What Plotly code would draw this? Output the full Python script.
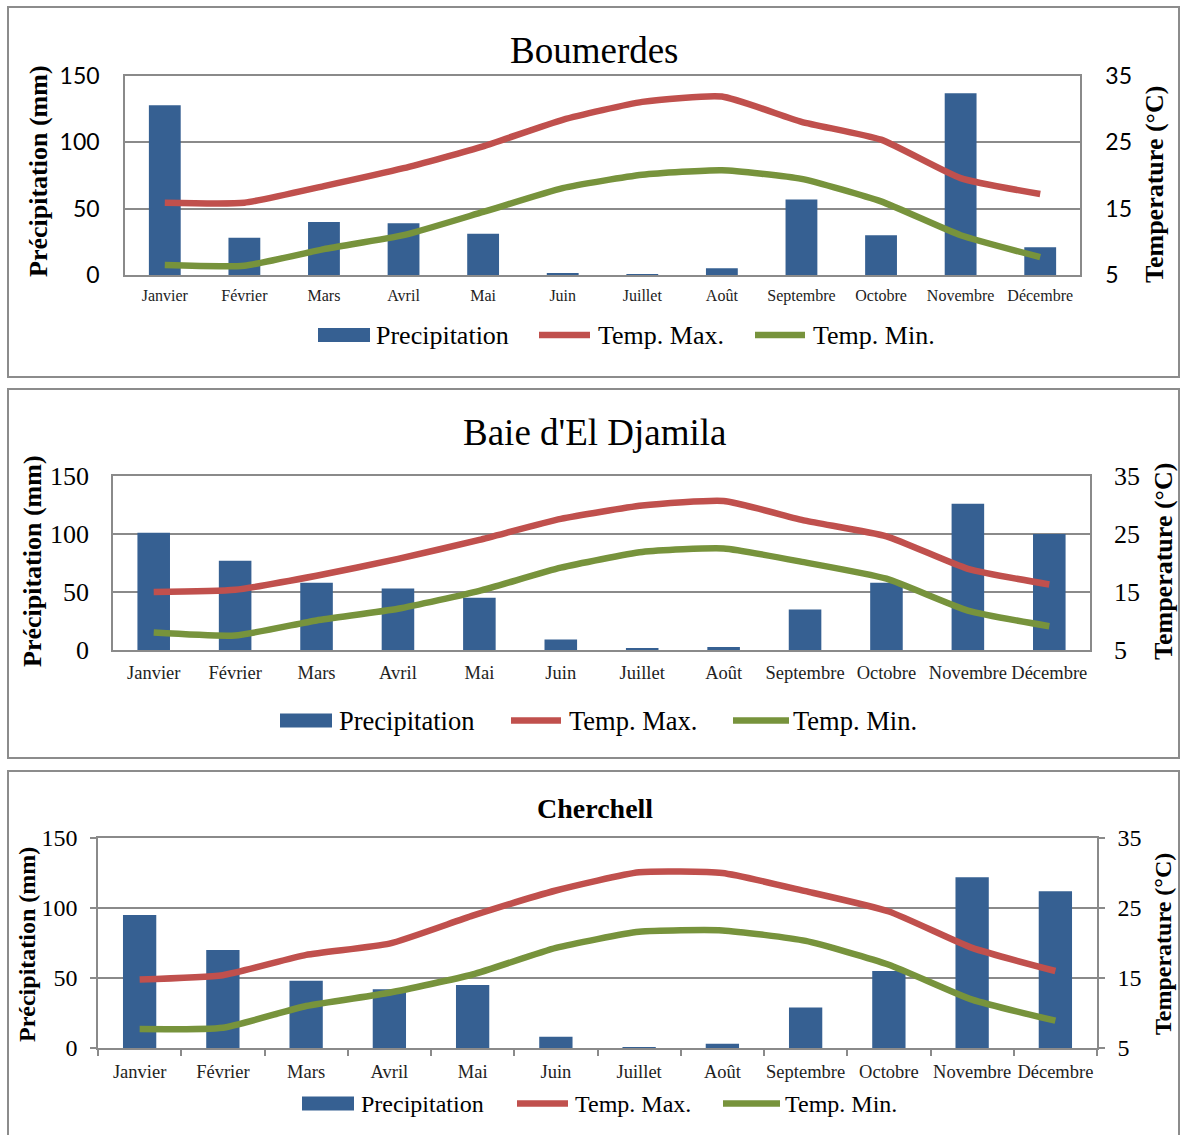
import plotly.graph_objects as go

months = ["Janvier", "Février", "Mars", "Avril", "Mai", "Juin", "Juillet",
          "Août", "Septembre", "Octobre", "Novembre", "Décembre"]

boum_precip = [128, 28, 40, 39, 31, 1, 0.5, 5, 57, 30, 137, 21]
boum_tmax = [15.9, 15.9, 18.4, 21.1, 24.4, 28.4, 31.1, 31.9, 28.1, 25.4, 19.6, 17.2]
boum_tmin = [6.5, 6.4, 8.9, 11.0, 14.5, 18.1, 20.1, 20.8, 19.5, 16.1, 11.0, 7.7]

djam_precip = [101, 77, 58, 53, 45, 9, 1, 2.5, 35, 58, 126, 100]
djam_tmax = [15.0, 15.4, 17.8, 20.7, 24.0, 27.6, 29.9, 30.7, 27.3, 24.6, 19.0, 16.3]
djam_tmin = [8.0, 7.5, 10.1, 12.1, 15.2, 19.2, 21.9, 22.5, 20.1, 17.3, 11.8, 9.1]

cher_precip = [95, 70, 48, 42, 45, 8, 0.5, 3, 29, 55, 122, 112]
cher_tmax = [14.8, 15.4, 18.3, 19.9, 23.9, 27.5, 30.1, 30.0, 27.4, 24.5, 19.3, 16.0]
cher_tmin = [7.7, 7.9, 11.0, 12.9, 15.5, 19.3, 21.6, 21.8, 20.3, 16.9, 11.9, 8.9]

titles = ["Boumerdes", "Baie d'El Djamila", "Cherchell"]
series_names = ["Precipitation", "Temp. Max.", "Temp. Min."]
left_ticks = [0, 50, 100, 150]
right_ticks = [5, 15, 25, 35]
left_title = "Précipitation (mm)"
right_title = "Temperature (°C)"

BLUE = "#366092"
RED = "#C0504D"
GREEN = "#77933C"
GRID = "#8a8a8a"

W, H = 1181, 1135


def px(x):
    return x / W


def py(y):
    return 1 - y / H


SERIF = "Liberation Serif"
SANS = "Lato"

panels = [
    dict(data=(boum_precip, boum_tmax, boum_tmin), title_font=dict(family=SERIF, size=37, color="black"),
         title_y=50, box=(8, 7, 1179, 377), plot=(125, 76, 1080, 275),
         tick_font=dict(family=SANS, size=23, color="black"), tick_standoff=19,
         x_font=dict(family=SERIF, size=16, color="#222"), x_standoff=5,
         axt_font=dict(family=SERIF, size=26, color="black"), axt_x=(38, 1155), axt_y=(171, 185),
         ticks=False,
         legend=dict(y=335, size=26, bar=(318, 370), red=(539, 590), green=(755, 805),
                     txt=(374, 596, 811))),
    dict(data=(djam_precip, djam_tmax, djam_tmin), title_font=dict(family=SERIF, size=37, color="black"),
         title_y=432, box=(8, 389, 1179, 758), plot=(113, 476, 1090, 650),
         tick_font=dict(family=SERIF, size=26, color="black"), tick_standoff=17,
         x_font=dict(family=SERIF, size=18.5, color="#222"), x_standoff=5,
         axt_font=dict(family=SERIF, size=26, color="black"), axt_x=(33, 1163), axt_y=(561, 562),
         ticks=False,
         legend=dict(y=720.5, size=26.5, bar=(280, 332), red=(511, 561), green=(733, 789),
                     txt=(337, 567, 791))),
    dict(data=(cher_precip, cher_tmax, cher_tmin), title_font=dict(family=SERIF, size=28, color="black", weight="bold"),
         title_y=808, box=(8, 771, 1179, 1145), plot=(98, 838, 1097, 1048),
         tick_font=dict(family=SERIF, size=24, color="black"), tick_standoff=8,
         x_font=dict(family=SERIF, size=18.5, color="#222"), x_standoff=6,
         axt_font=dict(family=SERIF, size=24, color="black"), axt_x=(27, 1163), axt_y=(945, 944),
         ticks=True,
         legend=dict(y=1103.5, size=24, bar=(302, 354), red=(517, 568), green=(723, 780),
                     txt=(359, 573, 783))),
]

fig = go.Figure()
shapes = []
annotations = []

for i, p in enumerate(panels):
    n = i + 1
    xa = "x" if n == 1 else f"x{n}"
    yl_idx = 2 * n - 1
    yr_idx = 2 * n
    yl = "y" if yl_idx == 1 else f"y{yl_idx}"
    yr = f"y{yr_idx}"
    precip, tmax, tmin = p["data"]

    fig.add_trace(go.Bar(x=months, y=precip, name=series_names[0], marker=dict(color=BLUE, line=dict(width=0)),
                         width=0.4, xaxis=xa, yaxis=yl, showlegend=False))
    fig.add_trace(go.Scatter(x=months, y=tmax, name=series_names[1], mode="lines",
                             line=dict(color=RED, width=6.5, shape="spline", smoothing=0.5),
                             xaxis=xa, yaxis=yr, showlegend=False))
    fig.add_trace(go.Scatter(x=months, y=tmin, name=series_names[2], mode="lines",
                             line=dict(color=GREEN, width=6.5, shape="spline", smoothing=0.5),
                             xaxis=xa, yaxis=yr, showlegend=False))

    x0, y0, x1, y1 = p["plot"]
    xkey = "xaxis" if n == 1 else f"xaxis{n}"
    ylkey = "yaxis" if yl_idx == 1 else f"yaxis{yl_idx}"
    yrkey = f"yaxis{yr_idx}"

    xaxis = dict(domain=[px(x0), px(x1)], anchor=yl, type="category", range=[-0.5, 11.5],
                 showline=True, mirror=True, linecolor=GRID, linewidth=1.5, showgrid=False,
                 zeroline=False, tickfont=p["x_font"], ticklabelstandoff=p["x_standoff"],
                 tickangle=0, automargin=False, fixedrange=True)
    yl_axis = dict(domain=[py(y1), py(y0)], anchor=xa, range=[0, 150], tickvals=left_ticks,
                   showline=True, linecolor=GRID, linewidth=1.5, showgrid=True, gridcolor=GRID,
                   gridwidth=1.5, zeroline=False, tickfont=p["tick_font"],
                   ticklabelstandoff=p["tick_standoff"], automargin=False)
    yr_axis = dict(overlaying=yl, anchor=xa, side="right", range=[5, 35], tickvals=right_ticks,
                   showline=True, linecolor=GRID, linewidth=1.5, showgrid=False, zeroline=False,
                   tickfont=p["tick_font"], ticklabelstandoff=p["tick_standoff"], automargin=False)
    if p["ticks"]:
        xaxis.update(ticks="outside", tickson="boundaries", ticklen=6, tickcolor=GRID, tickwidth=1.5)
        yl_axis.update(ticks="outside", ticklen=6, tickcolor=GRID, tickwidth=1.5)
        yr_axis.update(ticks="outside", ticklen=6, tickcolor=GRID, tickwidth=1.5)
    fig.update_layout({xkey: xaxis, ylkey: yl_axis, yrkey: yr_axis})

    # panel frame
    bx0, by0, bx1, by1 = p["box"]
    shapes.append(dict(type="rect", xref="paper", yref="paper", x0=px(bx0), x1=px(bx1),
                       y0=py(by1), y1=py(by0), line=dict(color="#8c8c8c", width=2), layer="below"))

    # title
    annotations.append(dict(text=titles[i], xref="paper", yref="paper", x=px(595), y=py(p["title_y"]),
                            xanchor="center", yanchor="middle", showarrow=False, font=p["title_font"]))
    # axis titles
    annotations.append(dict(text=f"<b>{left_title}</b>", xref="paper", yref="paper", x=px(p["axt_x"][0]),
                            y=py(p["axt_y"][0]), textangle=-90, xanchor="center", yanchor="middle",
                            showarrow=False, font=p["axt_font"]))
    annotations.append(dict(text=f"<b>{right_title}</b>", xref="paper", yref="paper", x=px(p["axt_x"][1]),
                            y=py(p["axt_y"][1]), textangle=-90, xanchor="center", yanchor="middle",
                            showarrow=False, font=p["axt_font"]))

    # legend (drawn)
    lg = p["legend"]
    ly = lg["y"]
    shapes.append(dict(type="rect", xref="paper", yref="paper", x0=px(lg["bar"][0]), x1=px(lg["bar"][1]),
                       y0=py(ly + 7), y1=py(ly - 7), fillcolor=BLUE, line=dict(width=0)))
    shapes.append(dict(type="line", xref="paper", yref="paper", x0=px(lg["red"][0]), x1=px(lg["red"][1]),
                       y0=py(ly), y1=py(ly), line=dict(color=RED, width=6.5)))
    shapes.append(dict(type="line", xref="paper", yref="paper", x0=px(lg["green"][0]), x1=px(lg["green"][1]),
                       y0=py(ly), y1=py(ly), line=dict(color=GREEN, width=6.5)))
    for name, tx in zip(series_names, lg["txt"]):
        annotations.append(dict(text=name, xref="paper", yref="paper", x=px(tx), y=py(ly),
                                xanchor="left", yanchor="middle", showarrow=False,
                                font=dict(family=SERIF, size=lg["size"], color="black")))

fig.update_layout(width=W, height=H, margin=dict(l=0, r=0, t=0, b=0), paper_bgcolor="white",
                  plot_bgcolor="white", bargap=0.6, showlegend=False, shapes=shapes,
                  annotations=annotations)

fig.write_html("out.html")
